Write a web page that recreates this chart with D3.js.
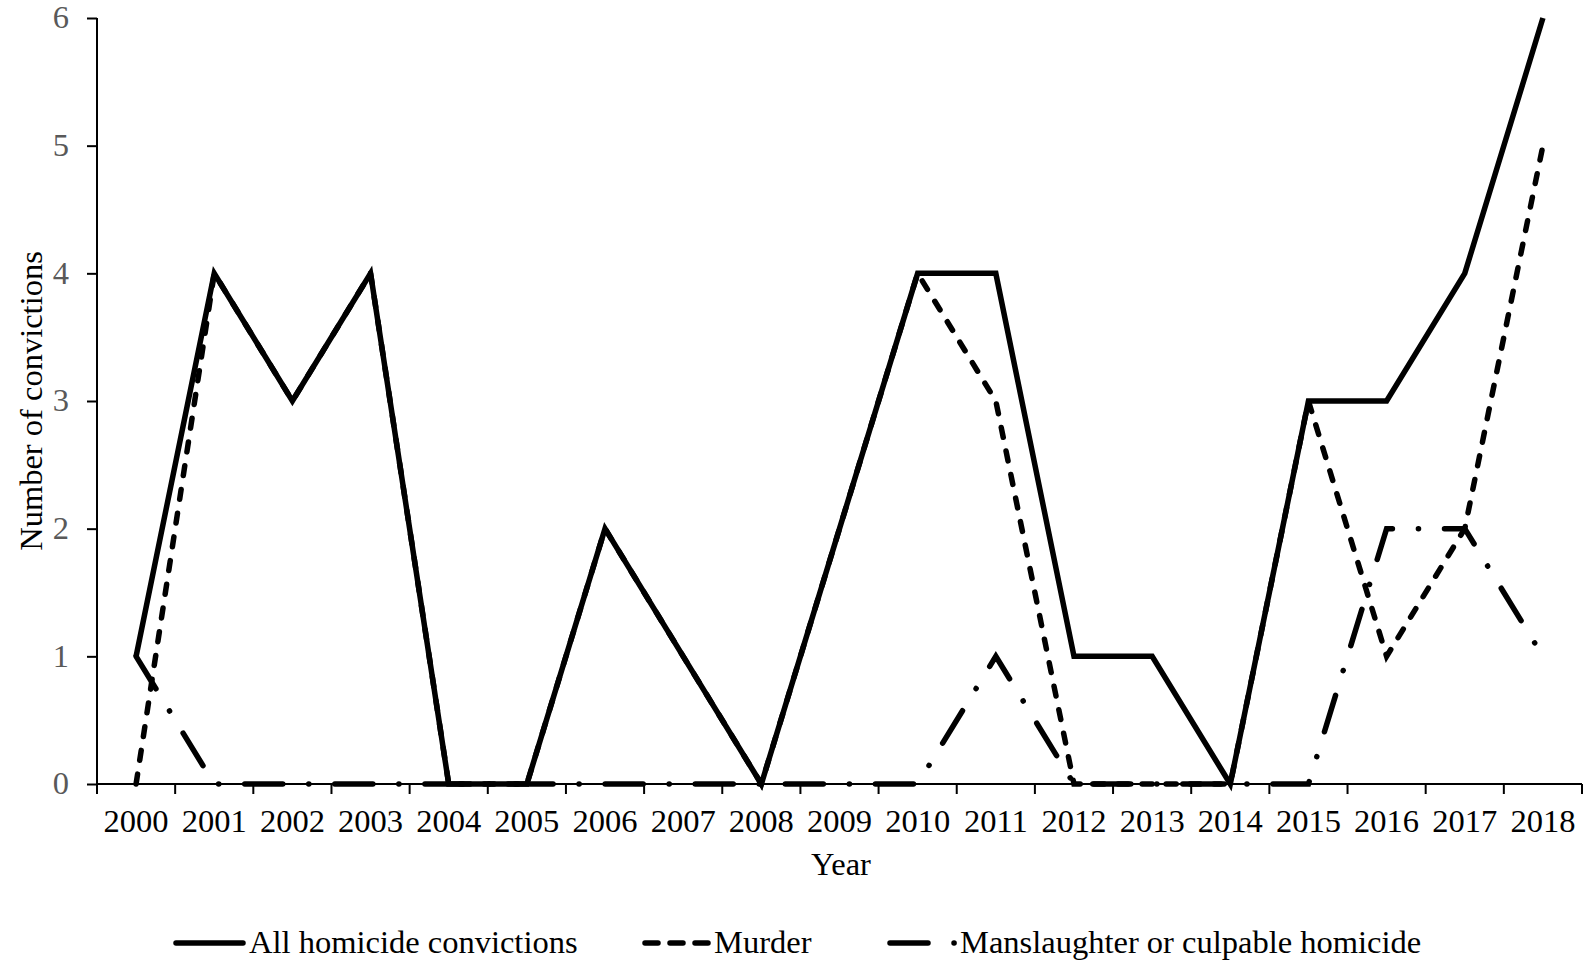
<!DOCTYPE html>
<html>
<head>
<meta charset="utf-8">
<script src="https://cdn.jsdelivr.net/npm/d3@7"></script>
<style>
  html, body { margin: 0; padding: 0; background: #fff; overflow: hidden; }
  svg { display: block; }
  svg text { font-family: "Liberation Serif", "Times New Roman", serif; }
</style>
</head>
<body>
<svg id="chart" width="1584" height="963"></svg>
<script>
const years = ['2000', '2001', '2002', '2003', '2004', '2005', '2006', '2007', '2008', '2009',
  '2010', '2011', '2012', '2013', '2014', '2015', '2016', '2017', '2018'];
const allHomicide = [1, 4, 3, 4, 0, 0, 2, 1, 0, 2, 4, 4, 1, 1, 0, 3, 3, 4, 6];
const murder = [0, 4, 3, 4, 0, 0, 2, 1, 0, 2, 4, 3, 0, 0, 0, 3, 1, 2, 5];
const manslaughter = [1, 0, 0, 0, 0, 0, 0, 0, 0, 0, 0, 1, 0, 0, 0, 0, 2, 2, 1];
const yTicks = [0, 1, 2, 3, 4, 5, 6];

const seriesList = [
  { name: 'All homicide convictions', values: allHomicide, dash: null },
  { name: 'Murder', values: murder, dash: '10 14' },
  { name: 'Manslaughter or culpable homicide', values: manslaughter, dash: '38 26 0.1 26' }
];

const svg = d3.select('#chart');
const margin = { left: 97, right: 1582, top: 18, bottom: 784 };
const fontSize = '32.5px';
const lineW = 5.5;

const x = d3.scaleBand()
  .domain(years)
  .range([margin.left, margin.right]);

const y = d3.scaleLinear()
  .domain([0, 6])
  .range([margin.bottom, margin.top]);

// y axis
const yAxis = svg.append('g')
  .attr('transform', `translate(${margin.left},0)`)
  .call(d3.axisLeft(y).tickValues(yTicks).tickSize(10).tickPadding(18).tickFormat(d3.format('d')));
yAxis.select('.domain').attr('stroke', '#000').attr('stroke-width', 2).attr('d', `M0,${margin.top}V${margin.bottom}`);
yAxis.selectAll('.tick line').attr('stroke', '#000').attr('stroke-width', 2);
yAxis.selectAll('.tick text')
  .attr('fill', '#595959')
  .attr('dy', '0.3em')
  .style('font-size', fontSize)
  .style('font-family', '"Liberation Serif", serif');

// x axis: ticks at category boundaries
const bounds = years.map(d => x(d)).concat([margin.right]);
const xg = svg.append('g');
xg.append('line')
  .attr('x1', margin.left).attr('x2', margin.right)
  .attr('y1', margin.bottom).attr('y2', margin.bottom)
  .attr('stroke', '#000').attr('stroke-width', 2);
xg.selectAll('line.tick')
  .data(bounds)
  .enter()
  .append('line')
  .attr('class', 'tick')
  .attr('x1', d => d).attr('x2', d => d)
  .attr('y1', margin.bottom).attr('y2', margin.bottom + 10)
  .attr('stroke', '#000').attr('stroke-width', 2);
xg.selectAll('text')
  .data(years)
  .enter()
  .append('text')
  .attr('x', d => x(d) + x.bandwidth() / 2)
  .attr('y', 832)
  .attr('text-anchor', 'middle')
  .style('font-size', fontSize)
  .attr('fill', '#000')
  .text(d => d);

// axis titles
svg.append('text')
  .attr('x', 841)
  .attr('y', 875)
  .attr('text-anchor', 'middle')
  .style('font-size', fontSize)
  .text('Year');

svg.append('text')
  .attr('transform', 'translate(42,401) rotate(-90)')
  .attr('text-anchor', 'middle')
  .style('font-size', fontSize)
  .text('Number of convictions');

// lines
const line = d3.line()
  .x((d, i) => x(years[i]) + x.bandwidth() / 2)
  .y(d => y(d));

svg.append('g')
  .selectAll('path')
  .data(seriesList.slice().reverse())
  .enter()
  .append('path')
  .attr('d', d => line(d.values))
  .attr('fill', 'none')
  .attr('stroke', '#000')
  .attr('stroke-width', lineW)
  .attr('stroke-linecap', d => d.dash ? 'round' : 'butt')
  .attr('stroke-linejoin', 'miter')
  .attr('stroke-dasharray', d => d.dash);

// legend
const legendItems = [
  { x1: 176, x2: 243, tx: 249 },
  { x1: 645, x2: 708, tx: 714 },
  { x1: 890, x2: 957, tx: 960 }
];
const legendDash = ['', '13 12', '38 26 0.1 40'];
const legend = svg.append('g');
legend.selectAll('line')
  .data(seriesList)
  .enter()
  .append('line')
  .attr('x1', (d, i) => legendItems[i].x1)
  .attr('x2', (d, i) => legendItems[i].x2)
  .attr('y1', 943).attr('y2', 943)
  .attr('stroke', '#000')
  .attr('stroke-width', lineW)
  .attr('stroke-linecap', 'round')
  .attr('stroke-dasharray', (d, i) => legendDash[i] || null);
legend.selectAll('text')
  .data(seriesList)
  .enter()
  .append('text')
  .attr('x', (d, i) => legendItems[i].tx)
  .attr('y', 953)
  .style('font-size', fontSize)
  .text(d => d.name);
</script>
</body>
</html>
